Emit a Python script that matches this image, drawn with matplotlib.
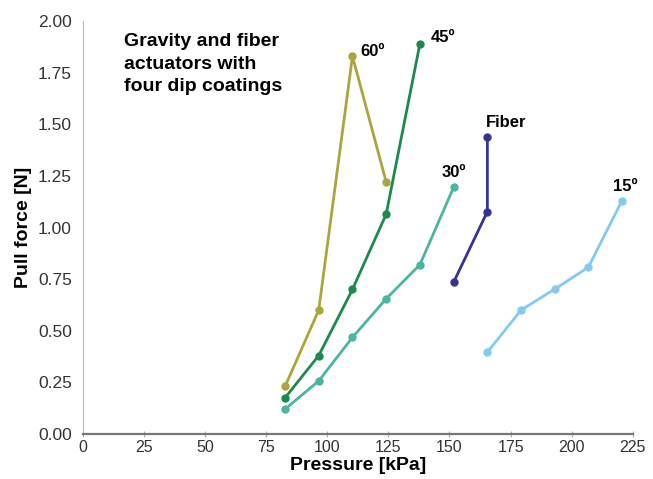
import matplotlib
matplotlib.use("Agg")
import matplotlib.pyplot as plt

plt.rcParams['font.family'] = ['Liberation Sans', 'DejaVu Sans']

# pressure steps in kPa (2 psi steps)
p_60 = [82.7, 96.5, 110.3, 124.1]
f_60 = [0.23, 0.60, 1.83, 1.22]

p_45 = [82.7, 96.5, 110.3, 124.1, 137.9]
f_45 = [0.175, 0.38, 0.70, 1.065, 1.89]

p_30 = [82.7, 96.5, 110.3, 124.1, 137.9, 151.7]
f_30 = [0.12, 0.257, 0.468, 0.655, 0.82, 1.195]

p_fiber = [151.7, 165.5, 165.5]
f_fiber = [0.735, 1.077, 1.437]

p_15 = [165.5, 179.3, 193.1, 206.8, 220.6]
f_15 = [0.396, 0.60, 0.702, 0.807, 1.13]

series = [
  (p_60, f_60, '#aaa53c', '60º'),
  (p_45, f_45, '#1b8a4c', '45º'),
  (p_30, f_30, '#4bb5a0', '30º'),
  (p_fiber, f_fiber, '#363392', 'Fiber'),
  (p_15, f_15, '#82cbef', '15º'),
]

# where each label sits relative to the top point (points, alignment)
label_pos = {
  '60º': ((6, -2), 'left'),
  '45º': ((8, -1), 'left'),
  '30º': ((0, 5), 'center'),
  'Fiber': ((-1, 5), 'left'),
  '15º': ((2, 5), 'center'),
}

fig = plt.figure(figsize=(6.53, 4.79), dpi=100)
ax = fig.add_axes([0.127, 0.094, 0.842, 0.862])

for xs, ys, color, label in series:
  ax.plot(xs, ys, color=color, lw=2, marker='o', ms=5)
  i = ys.index(max(ys))
  off, ha = label_pos[label]
  ax.annotate(label, (xs[i], ys[i]), xytext=off, textcoords='offset points',
              ha=ha, va='bottom', fontsize=12, fontweight='bold')

ax.text(17, 1.94, 'Gravity and fiber\nactuators with\nfour dip coatings',
        fontsize=14, fontweight='bold', va='top', ha='left', linespacing=1.4)

ax.set_xlim(0, 225)
ax.set_ylim(0, 2.0)
ax.set_xticks(range(0, 226, 25))
ax.set_yticks([0, 0.25, 0.5, 0.75, 1.0, 1.25, 1.5, 1.75, 2.0])
ax.set_yticklabels(['%.2f' % v for v in ax.get_yticks()])
ax.spines['top'].set_visible(False)
ax.spines['right'].set_visible(False)
ax.spines['left'].set_color('#b8b8b8')
ax.spines['bottom'].set_color('#777777')
ax.spines['bottom'].set_linewidth(1.6)
ax.tick_params(axis='x', direction='inout', length=5, color='#aaaaaa', labelsize=11.5, labelcolor='#333333', pad=2)
ax.tick_params(axis='y', length=0, labelsize=12.5, labelcolor='#333333', pad=8)

ax.set_xlabel('Pressure [kPa]', fontsize=14, fontweight='bold', labelpad=1)
ax.set_ylabel('Pull force [N]', fontsize=14, fontweight='bold', labelpad=4)

fig.savefig('out.png', dpi=100)
